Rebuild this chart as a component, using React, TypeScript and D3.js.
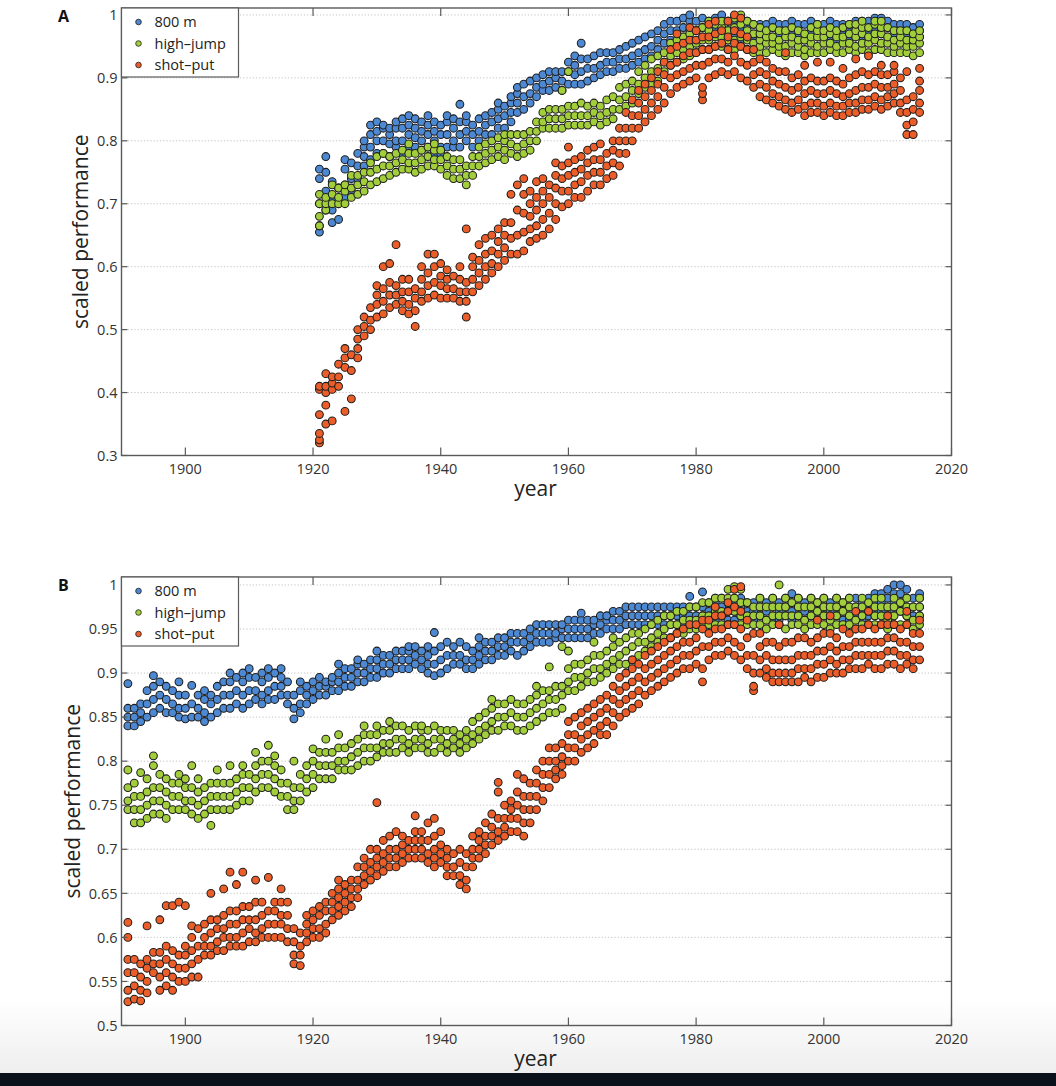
import React from 'react';
import * as d3 from 'd3';

const seriesNames = ['800 m', 'high\u2013jump', 'shot\u2013put'];
const seriesColors = ['#4d88d2', '#a3ce3b', '#ec5e29'];
const xTickYears = [1900, 1920, 1940, 1960, 1980, 2000, 2020];
const yTicksA = [0.3, 0.4, 0.5, 0.6, 0.7, 0.8, 0.9, 1];
const yTicksB = [0.5, 0.55, 0.6, 0.65, 0.7, 0.75, 0.8, 0.85, 0.9, 0.95, 1];

// Panel A rows: [year, values...]
const a800: number[][] = [
[1921,.655,.665,.70,.74,.755],[1922,.69,.72,.75,.775],[1923,.67,.69,.71,.735],[1924,.675,.70,.725],
[1925,.71,.73,.755,.77],[1926,.72,.74,.765],[1927,.74,.76,.78],[1928,.76,.775,.79,.80],
[1929,.77,.79,.81,.825],[1930,.78,.80,.815,.83],[1931,.78,.80,.82,.825],[1932,.775,.795,.81,.82],
[1933,.79,.80,.82,.83],[1934,.78,.80,.82,.835],[1935,.79,.81,.825,.84],[1936,.79,.805,.82,.835],
[1937,.785,.80,.815,.83],[1938,.79,.81,.825,.84],[1939,.78,.80,.815,.83],[1940,.78,.79,.81,.825],
[1941,.79,.81,.83,.84],[1942,.79,.80,.82,.835],[1943,.79,.81,.83,.858],[1944,.80,.815,.83,.84],
[1945,.79,.81,.825],[1946,.80,.815,.835],[1947,.81,.825,.84],[1948,.81,.83,.845],
[1949,.82,.835,.85,.86],[1950,.82,.84,.855],[1951,.83,.845,.86,.87],[1952,.845,.86,.875,.885],
[1953,.85,.87,.89],[1954,.86,.875,.895],[1955,.87,.885,.90],[1956,.88,.89,.905],
[1957,.88,.895,.91],[1958,.885,.90,.91],[1959,.88,.895,.91],[1960,.89,.91,.925],
[1961,.89,.905,.92,.935],[1962,.89,.91,.93,.955],[1963,.895,.915,.93],[1964,.90,.915,.935],
[1965,.905,.92,.94],[1966,.91,.925,.94],[1967,.91,.925,.94],[1968,.915,.93,.945],
[1969,.915,.93,.95],[1970,.92,.935,.955],[1971,.925,.94,.96],[1972,.93,.945,.965],
[1973,.935,.95,.97],[1974,.945,.96,.975],[1975,.955,.97,.985],[1976,.96,.975,.99],
[1977,.96,.975,.99],[1978,.965,.98,.995],[1979,.96,.975,.99,1.0],[1980,.96,.975,.99],
[1981,.965,.98,.995],[1982,.965,.98,.99],[1983,.965,.975,.995],[1984,.965,.98,1.0],
[1985,.96,.975,.99],[1986,.965,.975,.985],[1987,.96,.975,.99],[1988,.965,.98,.99],
[1989,.96,.97,.985],[1990,.965,.975,.985],[1991,.96,.975,.985],[1992,.965,.98,.99],
[1993,.96,.97,.985],[1994,.965,.975,.985],[1995,.96,.975,.99],[1996,.965,.98,.985],
[1997,.96,.97,.985],[1998,.965,.975,.99],[1999,.965,.98,.985],[2000,.96,.975,.985],
[2001,.965,.975,.99],[2002,.96,.97,.985],[2003,.965,.975,.985],[2004,.96,.975,.985],
[2005,.965,.975,.99],[2006,.965,.98,.99],[2007,.965,.975,.99],[2008,.97,.98,.995],
[2009,.97,.985,.995],[2010,.965,.98,.99],[2011,.965,.975,.985],[2012,.96,.975,.985],
[2013,.965,.975,.985],[2014,.96,.97,.98],[2015,.965,.975,.985],
];

const aHigh: number[][] = [
[1921,.665,.68,.70,.715],[1922,.69,.70,.71],[1923,.70,.715,.73],[1924,.70,.71,.725],
[1925,.70,.72,.73],[1926,.71,.725,.745],[1927,.715,.73,.745],[1928,.72,.735,.75],
[1929,.73,.75,.765],[1930,.735,.755,.775],[1931,.74,.76,.78],[1932,.745,.76,.775],
[1933,.75,.765,.78],[1934,.755,.77,.785],[1935,.755,.765,.78,.795],[1936,.75,.765,.78],
[1937,.755,.77,.785],[1938,.76,.775,.79],[1939,.76,.77,.785,.795],[1940,.755,.77,.785],
[1941,.745,.76,.775],[1942,.74,.755,.77],[1943,.74,.755,.77],[1944,.73,.745,.76],
[1945,.745,.76,.775],[1946,.76,.775,.79],[1947,.765,.78,.795],[1948,.77,.785,.80],
[1949,.775,.79,.805],[1950,.77,.785,.80,.81],[1951,.78,.795,.81],[1952,.775,.79,.81],
[1953,.78,.795,.81],[1954,.785,.80,.815],[1955,.80,.815,.83],[1956,.82,.83,.845],
[1957,.82,.835,.85],[1958,.82,.835,.85],[1959,.82,.835,.85,.88],[1960,.825,.84,.855,.91],
[1961,.825,.84,.855],[1962,.825,.84,.86],[1963,.825,.84,.855],[1964,.83,.845,.86],
[1965,.825,.84,.855],[1966,.83,.845,.865],[1967,.835,.85,.87],[1968,.85,.865,.885],
[1969,.855,.87,.89],[1970,.86,.88,.895],[1971,.875,.89,.91],[1972,.885,.90,.92],
[1973,.89,.91,.93],[1974,.895,.915,.935],[1975,.91,.925,.94],[1976,.92,.935,.955],
[1977,.925,.94,.96],[1978,.93,.945,.965],[1979,.935,.95,.97],[1980,.94,.955,.975],
[1981,.945,.96,.98],[1982,.945,.96,.975,.99],[1983,.95,.965,.985],[1984,.95,.965,.98,.99],
[1985,.945,.96,.975,.99],[1986,.945,.96,.98,.995],[1987,.95,.965,.985,1.0],[1988,.945,.96,.975,.99],
[1989,.94,.955,.97,.985],[1990,.94,.95,.96,.97,.98],[1991,.94,.955,.965,.975],[1992,.945,.955,.965,.98],
[1993,.94,.95,.96,.975],[1994,.935,.95,.965,.975],[1995,.94,.955,.965,.98],[1996,.94,.95,.96,.975],
[1997,.935,.945,.96,.97],[1998,.94,.955,.965,.98],[1999,.94,.95,.965,.975,.985],[2000,.94,.955,.965,.975],
[2001,.945,.955,.97,.98],[2002,.94,.95,.965,.975],[2003,.94,.955,.965,.98],[2004,.945,.955,.97,.985],
[2005,.94,.95,.965,.975,.985],[2006,.945,.955,.97,.98,.99],[2007,.94,.955,.965,.98],[2008,.945,.96,.97,.985,.99],
[2009,.945,.955,.97,.98,.99],[2010,.94,.955,.965,.98],[2011,.94,.95,.96,.975],[2012,.94,.955,.965,.975],
[2013,.94,.95,.96,.975],[2014,.935,.95,.96,.97],[2015,.94,.955,.965,.975],
];

const aShot: number[][] = [
[1921,.32,.325,.335,.365,.405,.41],[1922,.35,.38,.40,.41,.43],[1923,.355,.405,.415,.425],[1924,.41,.425,.445],
[1925,.37,.44,.455,.47],[1926,.39,.435,.46],[1927,.455,.47,.485,.50],[1928,.49,.505,.52],
[1929,.50,.515,.535],[1930,.52,.54,.555,.57],[1931,.525,.545,.565,.60],[1932,.535,.555,.575,.605],
[1933,.54,.555,.57,.635],[1934,.53,.545,.56,.58],[1935,.525,.54,.56,.58],[1936,.505,.53,.55,.565],
[1937,.545,.56,.58,.60],[1938,.55,.57,.59,.62],[1939,.555,.575,.60,.62],[1940,.55,.57,.585,.605],
[1941,.55,.565,.58,.595],[1942,.55,.565,.585],[1943,.545,.56,.58,.60],[1944,.52,.545,.56,.575,.66],
[1945,.56,.58,.60,.615],[1946,.57,.59,.61,.635],[1947,.58,.60,.62,.645],[1948,.59,.605,.625,.65],
[1949,.60,.62,.64,.66],[1950,.61,.63,.65,.67],[1951,.62,.645,.67,.715],[1952,.62,.65,.69,.73],
[1953,.625,.655,.685,.715,.74],[1954,.64,.66,.68,.70,.72],[1955,.645,.665,.69,.71,.735],[1956,.65,.675,.70,.72,.74],
[1957,.66,.685,.71,.73],[1958,.675,.70,.725,.745,.765],[1959,.695,.72,.74,.76],[1960,.70,.72,.745,.765,.79],
[1961,.71,.73,.75,.77],[1962,.71,.735,.755,.775],[1963,.72,.745,.765,.785],[1964,.73,.75,.77,.79],
[1965,.73,.75,.77,.795],[1966,.74,.76,.78],[1967,.745,.765,.785,.80],[1968,.76,.78,.80,.82],
[1969,.78,.80,.82,.845],[1970,.80,.82,.84,.865],[1971,.82,.84,.86,.88],[1972,.83,.85,.87,.89],
[1973,.84,.86,.88,.90],[1974,.85,.87,.89,.91],[1975,.86,.885,.905,.925],[1976,.875,.90,.92,.945],
[1977,.885,.905,.925,.95,.97],[1978,.89,.91,.935,.955],[1979,.895,.915,.94,.96,.98],[1980,.90,.92,.94,.96,.975],
[1981,.865,.875,.885,.92,.945,.965],[1982,.90,.925,.945,.965,.985],[1983,.905,.93,.95,.97,.99],[1984,.91,.93,.955,.975],
[1985,.905,.925,.945,.965,.99],[1986,.91,.935,.955,.975,1.0],[1987,.90,.925,.95,.97,.995],[1988,.895,.92,.945,.965],
[1989,.885,.905,.925,.945],[1990,.87,.89,.91,.93],[1991,.865,.885,.905,.925],[1992,.86,.875,.895,.915],
[1993,.855,.87,.89,.91],[1994,.85,.865,.885,.91,.94],[1995,.845,.86,.88,.90],[1996,.85,.865,.885,.905],
[1997,.84,.855,.875,.895,.92],[1998,.845,.86,.88,.90],[1999,.845,.86,.875,.895,.925],[2000,.84,.855,.875,.895],
[2001,.845,.86,.88,.90,.925],[2002,.84,.855,.875,.895],[2003,.84,.855,.87,.89,.915],[2004,.845,.86,.875,.90],
[2005,.845,.86,.88,.905,.93],[2006,.85,.865,.885,.91],[2007,.85,.865,.885,.905,.935],[2008,.855,.87,.89,.91],
[2009,.85,.865,.885,.905,.92],[2010,.855,.87,.885,.905],[2011,.86,.875,.89,.91,.92],[2012,.845,.86,.88,.90],
[2013,.81,.825,.845,.865,.91],[2014,.81,.83,.85,.87],[2015,.845,.86,.88,.895,.915],
];

// Panel B rows: [year, values...]
const b800: number[][] = [
[1891,.84,.85,.86,.888],[1892,.84,.85,.86],[1893,.845,.855,.865],[1894,.85,.865,.88],
[1895,.855,.87,.885,.897],[1896,.86,.875,.89],[1897,.855,.87,.885],[1898,.855,.865,.88],
[1899,.85,.86,.875,.89],[1900,.848,.86,.875],[1901,.85,.865,.886],[1902,.85,.86,.875],
[1903,.845,.855,.87,.88],[1904,.85,.865,.875],[1905,.855,.87,.885],[1906,.86,.875,.89],
[1907,.86,.875,.89,.90],[1908,.865,.88,.895],[1909,.86,.875,.89,.90],[1910,.865,.88,.895,.905],
[1911,.87,.88,.895],[1912,.865,.875,.89,.90],[1913,.87,.88,.895,.905],[1914,.87,.885,.90],
[1915,.875,.885,.895,.905],[1916,.865,.875,.89],[1917,.848,.86,.875],[1918,.855,.865,.88,.89],
[1919,.865,.875,.885],[1920,.87,.88,.89],[1921,.875,.885,.895],[1922,.875,.885,.89],
[1923,.88,.89,.895],[1924,.88,.89,.90,.91],[1925,.885,.895,.905],[1926,.885,.895,.905],
[1927,.89,.90,.91,.915],[1928,.89,.90,.91],[1929,.895,.905,.915],[1930,.895,.905,.915,.925],
[1931,.90,.91,.92],[1932,.90,.91,.92],[1933,.905,.915,.925],[1934,.905,.915,.925],
[1935,.905,.915,.925,.93],[1936,.91,.92,.93],[1937,.905,.915,.925],[1938,.90,.91,.92,.93],
[1939,.897,.91,.925,.946],[1940,.90,.915,.93],[1941,.905,.92,.935],[1942,.91,.92,.93],
[1943,.91,.92,.935],[1944,.905,.915,.93],[1945,.905,.915,.925],[1946,.91,.92,.93,.94],
[1947,.915,.925,.935],[1948,.915,.925,.935],[1949,.92,.93,.94],[1950,.92,.93,.94],
[1951,.925,.935,.945],[1952,.92,.935,.945],[1953,.925,.935,.945],[1954,.93,.94,.95],
[1955,.935,.945,.955],[1956,.935,.945,.955],[1957,.935,.945,.955],[1958,.94,.945,.955],
[1959,.94,.95,.955],[1960,.94,.95,.96],[1961,.94,.95,.96],[1962,.94,.95,.96,.968],
[1963,.94,.95,.96],[1964,.945,.955,.96],[1965,.945,.955,.965],[1966,.95,.96,.965],
[1967,.95,.96,.97],[1968,.95,.96,.97],[1969,.955,.965,.975],[1970,.955,.965,.975],
[1971,.955,.965,.975],[1972,.955,.965,.975],[1973,.955,.965,.975],[1974,.955,.965,.975],
[1975,.955,.965,.975],[1976,.955,.965,.975],[1977,.955,.965,.975],[1978,.955,.965,.975],
[1979,.955,.965,.975,.987],[1980,.955,.965,.975],[1981,.955,.965,.975,.992],[1982,.96,.97,.98],
[1983,.96,.97,.98,.985],[1984,.965,.975,.985],[1985,.96,.97,.98],[1986,.96,.97,.98,.985],
[1987,.965,.975,.985],[1988,.96,.97,.98],[1989,.96,.97,.98],[1990,.965,.975,.985],
[1991,.96,.97,.98],[1992,.96,.975,.985],[1993,.96,.97,.98],[1994,.965,.975,.985],
[1995,.96,.97,.98,.99],[1996,.965,.975,.985],[1997,.96,.97,.98],[1998,.965,.975,.985],
[1999,.96,.97,.98],[2000,.965,.975,.985],[2001,.96,.97,.98],[2002,.965,.975,.985],
[2003,.96,.97,.98],[2004,.96,.975,.985],[2005,.965,.975,.985],[2006,.96,.97,.98],
[2007,.965,.975,.985],[2008,.965,.98,.99],[2009,.97,.98,.99],[2010,.965,.975,.985,.995],
[2011,.97,.98,.99,1.0],[2012,.97,.98,.99,1.0],[2013,.965,.975,.985,.995],[2014,.965,.975,.985],
[2015,.965,.975,.985,.99],
];

const bHigh: number[][] = [
[1891,.745,.755,.77,.79],[1892,.73,.745,.76,.775],[1893,.73,.745,.76,.787],[1894,.735,.75,.765,.78],
[1895,.74,.755,.77,.795,.806],[1896,.74,.755,.77,.785],[1897,.735,.75,.765,.78],[1898,.745,.76,.775],
[1899,.745,.76,.775,.785],[1900,.745,.755,.77,.78],[1901,.74,.755,.77,.795],[1902,.735,.75,.765,.78],
[1903,.74,.755,.77],[1904,.727,.745,.76,.775],[1905,.745,.76,.775,.79],[1906,.745,.76,.775],
[1907,.745,.76,.775,.795],[1908,.75,.765,.78],[1909,.755,.77,.785,.795],[1910,.755,.77,.785],
[1911,.765,.78,.795,.81],[1912,.77,.785,.80],[1913,.77,.785,.80,.818],[1914,.765,.78,.795,.806],
[1915,.76,.775,.79],[1916,.745,.76,.775],[1917,.745,.755,.77,.80],[1918,.755,.77,.785],
[1919,.765,.78,.795],[1920,.77,.785,.80,.814],[1921,.78,.795,.81],[1922,.78,.795,.81,.825],
[1923,.78,.795,.81],[1924,.79,.80,.815,.83],[1925,.79,.80,.815],[1926,.79,.805,.82],
[1927,.795,.81,.825],[1928,.80,.815,.83,.84],[1929,.80,.815,.83],[1930,.805,.815,.83,.84],
[1931,.81,.82,.835],[1932,.81,.82,.835,.845],[1933,.81,.825,.84],[1934,.815,.825,.84],
[1935,.81,.82,.835],[1936,.815,.825,.84],[1937,.815,.825,.835,.84],[1938,.81,.82,.835],
[1939,.81,.825,.84],[1940,.815,.825,.835],[1941,.81,.82,.835],[1942,.815,.825,.835],
[1943,.81,.82,.83],[1944,.815,.825,.835],[1945,.82,.83,.845],[1946,.825,.835,.85],
[1947,.83,.84,.855],[1948,.835,.845,.86,.87],[1949,.835,.85,.865],[1950,.84,.85,.865],
[1951,.84,.855,.87],[1952,.835,.85,.865],[1953,.835,.85,.865],[1954,.84,.855,.87],
[1955,.845,.86,.875,.885],[1956,.85,.865,.88],[1957,.855,.87,.88,.907],[1958,.855,.87,.885],
[1959,.86,.875,.885,.93],[1960,.88,.89,.905,.925],[1961,.88,.895,.91],[1962,.885,.895,.91],
[1963,.89,.90,.915],[1964,.89,.905,.92,.935],[1965,.895,.905,.92],[1966,.90,.91,.925],
[1967,.905,.915,.93,.94],[1968,.91,.92,.935],[1969,.91,.925,.94],[1970,.915,.93,.945],
[1971,.92,.935,.945],[1972,.925,.935,.95],[1973,.93,.94,.955],[1974,.935,.945,.96],
[1975,.94,.95,.965],[1976,.94,.955,.965],[1977,.945,.955,.97],[1978,.945,.96,.97],
[1979,.95,.96,.975],[1980,.95,.96,.975],[1981,.955,.965,.98],[1982,.955,.965,.98],
[1983,.955,.97,.985],[1984,.955,.97,.985],[1985,.955,.97,.985,.995],[1986,.955,.97,.985,.998],
[1987,.955,.965,.98,.995],[1988,.955,.965,.98],[1989,.955,.965,.975],[1990,.955,.965,.975,.985],
[1991,.95,.96,.975],[1992,.955,.965,.975,.985],[1993,.955,.965,.975,1.0],[1994,.95,.965,.975,.985],
[1995,.955,.965,.98],[1996,.955,.965,.975,.985],[1997,.95,.96,.975],[1998,.955,.965,.975,.985],
[1999,.955,.97,.98],[2000,.955,.965,.975,.985],[2001,.95,.96,.975],[2002,.955,.965,.975,.985],
[2003,.955,.97,.98],[2004,.955,.965,.975,.985],[2005,.95,.96,.975],[2006,.955,.965,.975,.985],
[2007,.955,.97,.98],[2008,.955,.965,.975,.985],[2009,.955,.965,.975,.985],[2010,.95,.96,.975],
[2011,.955,.965,.975,.985],[2012,.955,.97,.98],[2013,.955,.965,.975,.985],[2014,.95,.96,.975],
[2015,.955,.965,.975,.985],
];

const bShot: number[][] = [
[1891,.527,.54,.56,.575,.60,.617],[1892,.53,.545,.56,.575],[1893,.528,.54,.555,.57],[1894,.537,.55,.565,.575,.613],
[1895,.56,.57,.583],[1896,.54,.555,.57,.583,.62],[1897,.545,.56,.575,.59,.636],[1898,.54,.555,.57,.585,.636],
[1899,.55,.565,.58,.64],[1900,.55,.565,.58,.59,.636],[1901,.555,.57,.585,.60,.613],[1902,.555,.575,.59,.61],
[1903,.58,.59,.60,.615],[1904,.58,.59,.605,.62,.65],[1905,.585,.595,.61,.62],[1906,.585,.60,.61,.625,.655],
[1907,.59,.60,.615,.63,.674],[1908,.59,.60,.615,.63,.66],[1909,.59,.605,.62,.635,.674],[1910,.595,.61,.62,.635],
[1911,.595,.605,.62,.64,.665],[1912,.60,.61,.625,.64],[1913,.60,.615,.63,.668],[1914,.60,.615,.63,.64],
[1915,.60,.615,.625,.64,.655],[1916,.595,.61,.625,.64],[1917,.57,.58,.595,.61],[1918,.568,.58,.59,.605],
[1919,.595,.605,.615,.625],[1920,.60,.61,.62,.63],[1921,.60,.61,.625,.635],[1922,.605,.615,.63,.64],
[1923,.62,.63,.64,.65],[1924,.625,.635,.645,.655,.665],[1925,.63,.64,.65,.66],[1926,.635,.645,.655,.665],
[1927,.645,.655,.665,.68],[1928,.66,.67,.68,.69],[1929,.665,.675,.685,.70],[1930,.67,.68,.69,.70,.753],
[1931,.675,.685,.695,.71],[1932,.68,.69,.70,.715],[1933,.68,.69,.70,.72],[1934,.685,.695,.705,.715],
[1935,.69,.70,.71],[1936,.69,.70,.71,.72,.738],[1937,.69,.70,.71,.72],[1938,.685,.695,.71,.73],
[1939,.68,.69,.70,.715,.735],[1940,.685,.695,.705,.72],[1941,.67,.68,.69,.70],[1942,.67,.68,.695],
[1943,.66,.67,.685,.70],[1944,.655,.665,.68,.695],[1945,.68,.69,.70,.715],[1946,.69,.70,.71,.72],
[1947,.695,.705,.715,.73],[1948,.705,.715,.725,.74],[1949,.71,.72,.735,.765,.776],[1950,.715,.725,.735,.75],
[1951,.72,.735,.745,.755],[1952,.72,.735,.75,.765,.785],[1953,.715,.73,.745,.76,.78],[1954,.73,.745,.76,.775],
[1955,.745,.76,.775,.79],[1956,.755,.77,.785,.80],[1957,.77,.785,.80,.815],[1958,.78,.79,.80,.815],
[1959,.785,.795,.805,.82],[1960,.80,.815,.83,.845],[1961,.80,.815,.83,.85],[1962,.81,.825,.84,.855],
[1963,.815,.83,.845,.86],[1964,.82,.835,.85,.865],[1965,.83,.84,.855,.87],[1966,.83,.845,.86,.875],
[1967,.84,.855,.87,.885],[1968,.85,.865,.88,.895],[1969,.855,.87,.885,.90],[1970,.86,.875,.89,.905,.915],
[1971,.865,.88,.895,.91],[1972,.875,.89,.905,.92],[1973,.88,.895,.91,.925],[1974,.885,.90,.915,.93],
[1975,.89,.905,.92,.935],[1976,.895,.91,.925,.94],[1977,.90,.915,.93,.945],[1978,.905,.92,.935,.95],
[1979,.905,.92,.935,.955],[1980,.91,.925,.94,.955],[1981,.89,.905,.93,.95,.96],[1982,.915,.93,.945,.96],
[1983,.92,.935,.95,.965,.975],[1984,.92,.935,.95,.965],[1985,.925,.94,.955,.97,.98],[1986,.92,.935,.955,.975,.995],
[1987,.915,.93,.95,.97,.998],[1988,.905,.92,.94,.96],[1989,.88,.885,.90,.92,.945],[1990,.90,.915,.93,.945],
[1991,.895,.905,.92,.935],[1992,.89,.90,.915,.935],[1993,.89,.90,.915,.93,.955],[1994,.89,.90,.915,.935],
[1995,.89,.90,.915,.935],[1996,.89,.905,.92,.94],[1997,.895,.905,.92,.94],[1998,.89,.905,.92,.935],
[1999,.895,.91,.925,.94,.96],[2000,.895,.91,.925,.945],[2001,.90,.915,.93,.945,.965],[2002,.90,.91,.925,.94],
[2003,.90,.915,.93,.95],[2004,.905,.915,.93,.945],[2005,.905,.92,.935,.95,.97],[2006,.905,.92,.935,.95],
[2007,.91,.92,.935,.955,.97],[2008,.905,.92,.935,.95],[2009,.905,.92,.935,.955],[2010,.91,.925,.94,.955,.965],
[2011,.91,.925,.94,.955],[2012,.905,.92,.935,.95],[2013,.91,.92,.935,.955,.97],[2014,.905,.915,.93,.945],
[2015,.915,.93,.945,.96],
];

const FONT = '"Open Sans", "Liberation Sans", sans-serif';

type PanelProps = {
  top: number; bottom: number; yMin: number; yMax: number; ticks: number[];
  data: number[][][]; letter: string; yLabelX: number;
};

function Panel({ top, bottom, yMin, yMax, ticks, data, letter, yLabelX }: PanelProps) {
  const left = 121.5, right = 951.5;
  const x = d3.scaleLinear().domain([1890, 2020]).range([left, right]);
  const y = d3.scaleLinear().domain([yMin, yMax]).range([bottom, top]);
  const fmt = (v: number) => String(+v.toFixed(2));
  const axisColor = '#5a5a5a';
  const legendRows = seriesNames.map((n, i) => ({ n, i }));
  return (
    <g>
      {ticks.slice(1).map(t => (
        <line key={'g' + t} x1={left} x2={right} y1={y(t)} y2={y(t)} stroke="#c4c4c4" strokeWidth={1} strokeDasharray="1.2,2" />
      ))}
      {data.map((rows, si) => (
        <g key={'s' + si}>
          {rows.flatMap(r => r.slice(1).map((v, k) => (
            <circle key={r[0] + '-' + k} cx={x(r[0])} cy={y(v)} r={3.9}
              fill={seriesColors[si]} stroke="#1e1e1e" strokeWidth={1.05} />
          )))}
        </g>
      ))}
      <rect x={left} y={top} width={right - left} height={bottom - top} fill="none" stroke={axisColor} strokeWidth={1.4} />
      {xTickYears.map(t => (
        <g key={'x' + t}>
          <line x1={x(t)} x2={x(t)} y1={bottom} y2={bottom - 8} stroke={axisColor} strokeWidth={1.2} />
          <line x1={x(t)} x2={x(t)} y1={top} y2={top + 8} stroke={axisColor} strokeWidth={1.2} />
          <text x={x(t)} y={bottom + 18} textAnchor="middle" fontSize={14.5} fontFamily={FONT} fill="#333">{t}</text>
        </g>
      ))}
      {ticks.map(t => (
        <g key={'y' + t}>
          <line x1={left} x2={left + 6} y1={y(t)} y2={y(t)} stroke={axisColor} strokeWidth={1.2} />
          <line x1={right} x2={right - 6} y1={y(t)} y2={y(t)} stroke={axisColor} strokeWidth={1.2} />
          <text x={left - 4} y={y(t)} dy="0.36em" textAnchor="end" fontSize={14.5} fontFamily={FONT} fill="#333">{fmt(t)}</text>
        </g>
      ))}
      <text x={(left + right) / 2 - 1} y={bottom + 40} textAnchor="middle" fontSize={21} fontFamily={FONT} fill="#222">year</text>
      <text transform={`translate(${yLabelX},${(top + bottom) / 2}) rotate(-90)`} textAnchor="middle" fontSize={21} fontFamily={FONT} fill="#222">scaled performance</text>
      <text x={58} y={top + 14} fontSize={16} fontWeight="bold" fontFamily={FONT} fill="#111">{letter}</text>
      <g>
        <rect x={left} y={top} width={117} height={69} fill="#fff" stroke={axisColor} strokeWidth={1.2} />
        {legendRows.map(({ n, i }) => (
          <g key={'l' + i}>
            <circle cx={left + 17} cy={top + 14 + i * 21.5} r={2.8} fill={seriesColors[i]} stroke="#1c1c1c" strokeWidth={0.8} />
            <text x={left + 33} y={top + 14 + i * 21.5} dy="0.36em" fontSize={14.5} fontFamily={FONT} fill="#222">{n}</text>
          </g>
        ))}
      </g>
    </g>
  );
}

export default function App() {
  return (
    <svg width={1056} height={1086} style={{ position: 'absolute', left: 0, top: 0, display: 'block' }}>
      <defs>
        <linearGradient id="bg" x1="0" y1="0" x2="0" y2="1">
          <stop offset="0" stopColor="#ffffff" />
          <stop offset="0.93" stopColor="#ffffff" />
          <stop offset="1" stopColor="#eeeeee" />
        </linearGradient>
      </defs>
      <rect x={0} y={0} width={1056} height={1074} fill="url(#bg)" />
      <rect x={0} y={1073} width={1056} height={13} fill="#0b111b" />
      <Panel top={8} bottom={455.5} yMin={0.3} yMax={1.011} ticks={yTicksA} data={[a800, aHigh, aShot]} letter="A" yLabelX={88} />
      <Panel top={577} bottom={1025.5} yMin={0.5} yMax={1.009} ticks={yTicksB} data={[b800, bHigh, bShot]} letter="B" yLabelX={80} />
    </svg>
  );
}
